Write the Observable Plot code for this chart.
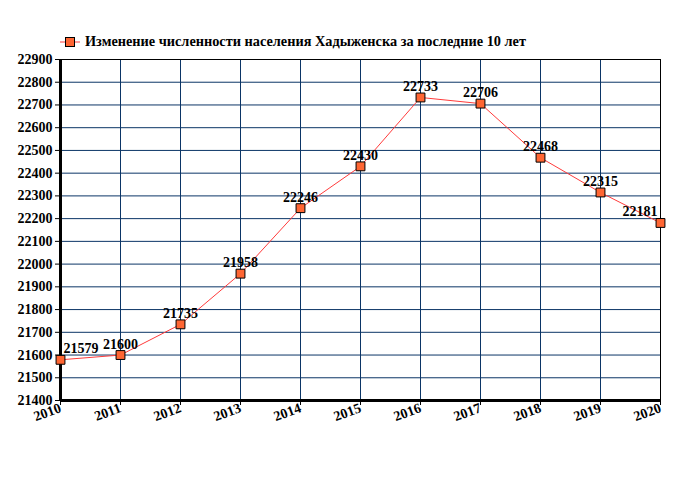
<!DOCTYPE html>
<html><head><meta charset="utf-8">
<script src="https://cdn.jsdelivr.net/npm/d3@7"></script>
<script src="https://cdn.jsdelivr.net/npm/@observablehq/plot@0.6"></script>
<style>
body{margin:0;background:#fff;}
#wrap{position:relative;width:680px;height:500px;}
#legend{position:absolute;left:60px;top:33px;font-family:'Liberation Serif',serif;font-weight:bold;font-size:14.3px;color:#000;display:flex;align-items:center;white-space:nowrap;}
#legend svg{margin-right:5px;}
svg text{font-family:'Liberation Serif',serif;}
</style></head>
<body><div id="wrap"><div id="legend"><svg width="20" height="12"><line x1="0" y1="6" x2="20" y2="6" stroke="#ff3b3b" stroke-width="1"/><rect x="5.5" y="1.5" width="9" height="9" fill="#ff6633" stroke="#000" stroke-width="1"/></svg><span>Изменение численности населения Хадыженска за последние 10 лет</span></div><div id="chart"></div></div>
<script>
const years = [2010, 2011, 2012, 2013, 2014, 2015, 2016, 2017, 2018, 2019, 2020];
const population = [21579, 21600, 21735, 21958, 22246, 22430, 22733, 22706, 22468, 22315, 22181];
const yTicks = [21400, 21500, 21600, 21700, 21800, 21900, 22000, 22100, 22200, 22300, 22400, 22500, 22600, 22700, 22800, 22900];
const legendLabel = "Изменение численности населения Хадыженска за последние 10 лет";

const data = years.map((y, i) => ({year: y, value: population[i], i}));
const anchorOf = d => d.i === 0 ? "start" : d.i === years.length - 1 ? "end" : "middle";
const font = "'Liberation Serif', serif";

const chart = Plot.plot({
  width: 680, height: 500,
  marginLeft: 60, marginRight: 20, marginTop: 59, marginBottom: 100,
  style: {fontFamily: font, fontSize: "14px", fontWeight: "bold", color: "#000", background: "#fff"},
  x: {domain: [2010, 2020], label: null},
  y: {domain: [21400, 22900], label: null},
  marks: [
    Plot.gridX(years, {stroke: "#0b3566", strokeOpacity: 1, strokeWidth: 1}),
    Plot.gridY(yTicks, {stroke: "#0b3566", strokeOpacity: 1, strokeWidth: 1}),
    Plot.frame({stroke: "#000", strokeWidth: 1}),
    Plot.axisX(years, {tickFormat: d => String(d), tickRotate: -20, tickSize: 5, tickPadding: 2, fontFamily: font, fontSize: 14, fontWeight: "bold", label: null}),
    Plot.axisY(yTicks, {tickFormat: d => String(d), tickSize: 5, tickPadding: 3, fontFamily: font, fontSize: 14, fontWeight: "bold", label: null}),
    Plot.ruleX([2010], {stroke: "#000", strokeWidth: 3}),
    Plot.ruleY([21400], {stroke: "#000", strokeWidth: 3}),
    Plot.line(data, {x: "year", y: "value", stroke: "#ff3b3b", strokeWidth: 1}),
    Plot.dot(data, {x: "year", y: "value", symbol: "square", r: 5, fill: "#ff6633", stroke: "#000", strokeWidth: 1}),
    Plot.text(data.filter(d => anchorOf(d) === "middle"), {x: "year", y: "value", text: d => String(d.value), dy: -11, textAnchor: "middle", fontFamily: font, fontSize: 14, fontWeight: "bold", fill: "#000"}),
    Plot.text(data.filter(d => anchorOf(d) === "start"), {x: "year", y: "value", text: d => String(d.value), dy: -11, dx: 3, textAnchor: "start", fontFamily: font, fontSize: 14, fontWeight: "bold", fill: "#000"}),
    Plot.text(data.filter(d => anchorOf(d) === "end"), {x: "year", y: "value", text: d => String(d.value), dy: -11, dx: -3, textAnchor: "end", fontFamily: font, fontSize: 14, fontWeight: "bold", fill: "#000"})
  ]
});
document.getElementById("chart").appendChild(chart);
</script></body></html>
